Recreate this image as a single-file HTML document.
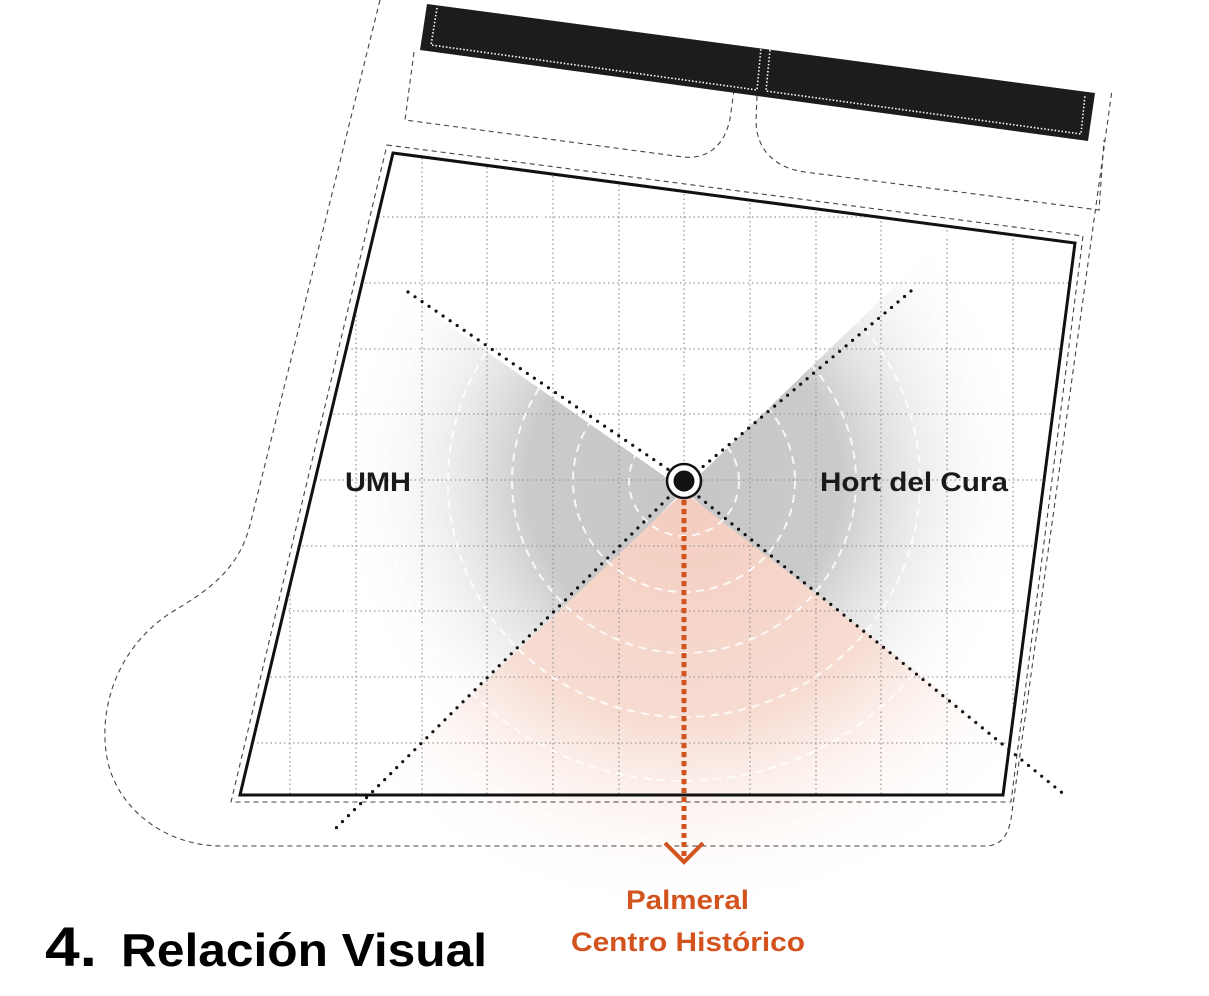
<!DOCTYPE html>
<html><head><meta charset="utf-8"><style>
html,body{margin:0;padding:0;background:#fff;width:1209px;height:996px;overflow:hidden;}
svg{display:block;}
text{font-family:"Liberation Sans",Arial,sans-serif;font-weight:bold;}
</style></head><body>
<svg width="1209" height="996" viewBox="0 0 1209 996" xmlns="http://www.w3.org/2000/svg">
<defs>
<radialGradient id="gg" cx="684" cy="481" r="350" gradientUnits="userSpaceOnUse">
<stop offset="0" stop-color="#c6c6c6"/><stop offset="0.45" stop-color="#cbcbcb"/><stop offset="1" stop-color="#fff" stop-opacity="0"/>
</radialGradient>
<radialGradient id="pg" cx="684" cy="481" r="440" gradientUnits="userSpaceOnUse">
<stop offset="0" stop-color="#f4cbbd"/><stop offset="0.55" stop-color="#f7dcd2"/><stop offset="1" stop-color="#fff" stop-opacity="0"/>
</radialGradient>
<clipPath id="q"><polygon points="393,153 1075,243 1003,795 240,795"/></clipPath>
</defs>

<polygon points="684,490 -100,-60 -300,1500" fill="url(#gg)"/>
<polygon points="684,490 1500,-300 1600,1300" fill="url(#gg)"/>
<polygon points="684,492 -100,1240 1600,1200" fill="url(#pg)"/>

<g clip-path="url(#q)" stroke="#9a9a9a" stroke-width="1.3" stroke-dasharray="1.5 3">
<line x1="290" y1="140" x2="290" y2="800"/><line x1="356" y1="140" x2="356" y2="800"/>
<line x1="422" y1="140" x2="422" y2="800"/><line x1="487" y1="140" x2="487" y2="800"/>
<line x1="553" y1="140" x2="553" y2="800"/><line x1="619" y1="140" x2="619" y2="800"/>
<line x1="684" y1="140" x2="684" y2="800"/><line x1="750" y1="140" x2="750" y2="800"/>
<line x1="816" y1="140" x2="816" y2="800"/><line x1="881" y1="140" x2="881" y2="800"/>
<line x1="947" y1="140" x2="947" y2="800"/><line x1="1013" y1="140" x2="1013" y2="800"/>
<line x1="230" y1="217" x2="1090" y2="217"/><line x1="230" y1="283" x2="1090" y2="283"/>
<line x1="230" y1="349" x2="1090" y2="349"/><line x1="230" y1="414" x2="1090" y2="414"/>
<line x1="230" y1="480" x2="1090" y2="480"/><line x1="230" y1="546" x2="1090" y2="546"/>
<line x1="230" y1="611" x2="1090" y2="611"/><line x1="230" y1="677" x2="1090" y2="677"/>
<line x1="230" y1="743" x2="1090" y2="743"/>
</g>

<g fill="none" stroke="#fff" stroke-width="2" stroke-dasharray="8 6" opacity="0.85">
<circle cx="684" cy="481" r="55"/><circle cx="684" cy="481" r="111"/>
<circle cx="684" cy="481" r="172"/><circle cx="684" cy="481" r="236"/>
<circle cx="684" cy="481" r="300"/><circle cx="684" cy="481" r="360"/>
</g>

<g fill="none" stroke="#444" stroke-width="1.1" stroke-dasharray="5 4">
<path d="M380,0 L250,525 C238,572 205,592 172,612 C112,650 95,720 110,770 C125,815 170,846 222,846 L985,846 C1003,846 1010,832 1012,812 L1112,90"/>
<polygon points="387,145 1083,236 1011,802 231,802"/>
<path d="M414,52 L405,120 L683,157 C712,160 728,140 731,112 L734,90"/>
<path d="M757,96 L756,120 C756,150 775,168 805,172 L1099,210 L1104,140"/>
</g>

<polygon points="427,4 1095,93 1088,141 420,50" fill="#1c1c1c"/>
<g fill="none" stroke="#fff" stroke-width="1.6" stroke-dasharray="1.5 2">
<path d="M437,8 L431,45 L757,90 L761,48"/>
<path d="M770,50 L766,91 L1081,134 L1085,95"/>
</g>

<polygon points="393,153 1075,243 1003,795 240,795" fill="none" stroke="#111" stroke-width="3"/>

<g stroke="#111" stroke-width="3.2" stroke-linecap="round" stroke-dasharray="0 8.5" fill="none">
<line x1="408" y1="292" x2="669" y2="470"/>
<line x1="699" y1="497" x2="1066" y2="796"/>
<line x1="911" y1="291" x2="699" y2="470"/>
<line x1="668" y1="498" x2="334" y2="830"/>
</g>

<circle cx="684" cy="481" r="17" fill="#fff" stroke="#111" stroke-width="2.5"/>
<circle cx="684" cy="481" r="10.5" fill="#111"/>

<line x1="684" y1="500" x2="684" y2="858" stroke="#d3531f" stroke-width="5" stroke-dasharray="5 4"/>
<polyline points="665,843 684,862 703,843" fill="none" stroke="#d3531f" stroke-width="4"/>

<text x="345" y="491" font-size="27" fill="#1a1a1a" textLength="66" lengthAdjust="spacingAndGlyphs">UMH</text>
<text x="820" y="491" font-size="27" fill="#1a1a1a" textLength="188" lengthAdjust="spacingAndGlyphs">Hort del Cura</text>
<text x="626" y="909" font-size="27" fill="#d3531f" textLength="123" lengthAdjust="spacingAndGlyphs">Palmeral</text>
<text x="571" y="951" font-size="27" fill="#d3531f" textLength="234" lengthAdjust="spacingAndGlyphs">Centro Histórico</text>
<text x="45" y="966" font-size="56" fill="#000" textLength="52" lengthAdjust="spacingAndGlyphs">4.</text>
<text x="121" y="966" font-size="46" fill="#000" textLength="366" lengthAdjust="spacingAndGlyphs">Relación Visual</text>
</svg>
</body></html>
